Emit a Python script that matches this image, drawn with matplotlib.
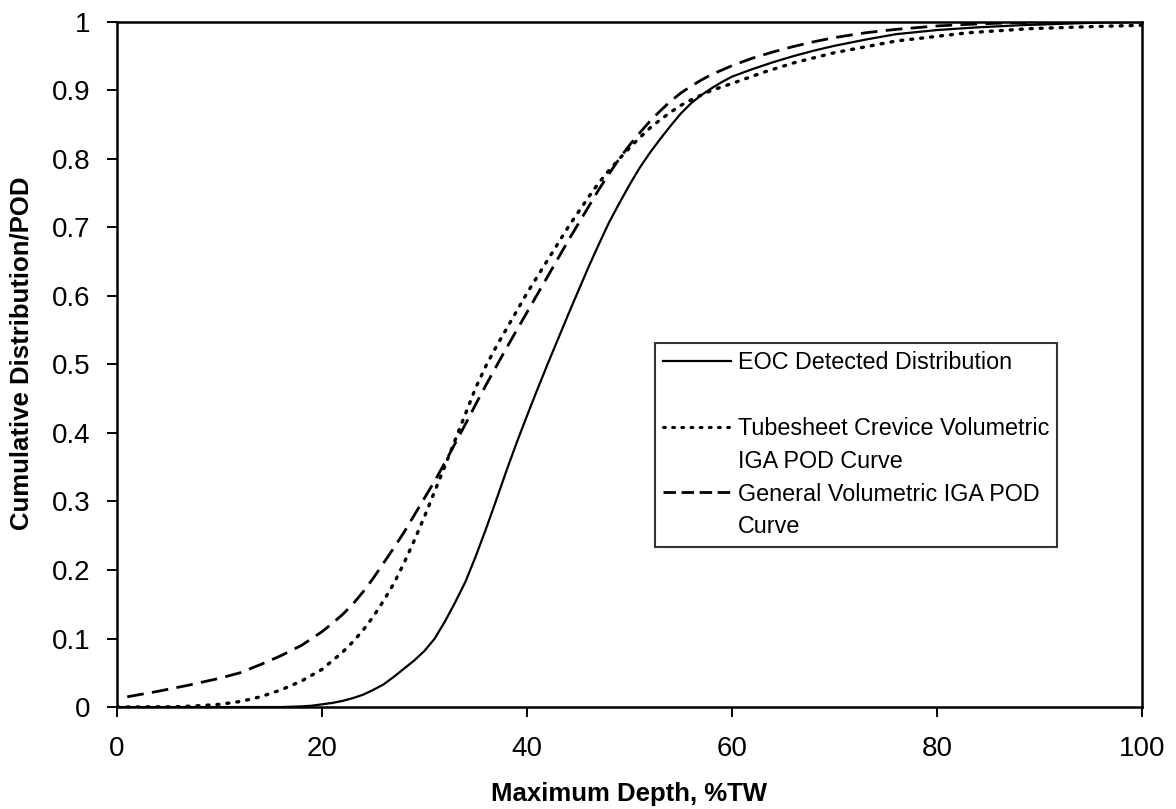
import matplotlib
matplotlib.use("Agg")
import matplotlib.pyplot as plt
from matplotlib.lines import Line2D

plt.rcParams['font.family'] = ['Liberation Sans', 'DejaVu Sans']

# EOC Detected Distribution (solid)
eoc_x = [0, 10, 16, 18, 19, 20, 21, 22, 23, 24, 25, 26, 27, 28, 29, 30, 31, 32, 33, 34, 35,
         36, 37, 38, 39, 40, 41, 42, 43, 44, 45, 46, 47, 48, 49, 50, 51, 52, 53, 54, 55, 56,
         57, 58, 59, 60, 62, 64, 66, 68, 70, 73, 76, 80, 84, 88, 92, 96, 100]
eoc_y = [0, 0, 0, 0.001, 0.002, 0.004, 0.006, 0.009, 0.013, 0.018, 0.025, 0.033, 0.044,
         0.056, 0.068, 0.082, 0.1, 0.125, 0.153, 0.183, 0.22, 0.26, 0.302, 0.345, 0.386,
         0.425, 0.463, 0.5, 0.536, 0.572, 0.607, 0.642, 0.675, 0.707, 0.735, 0.762, 0.787,
         0.809, 0.829, 0.848, 0.866, 0.881, 0.893, 0.903, 0.912, 0.92, 0.931, 0.941, 0.95,
         0.958, 0.965, 0.974, 0.982, 0.988, 0.992, 0.995, 0.997, 0.999, 1.0]

# Tubesheet Crevice Volumetric IGA POD Curve (dotted)
tsc_x = [0, 6, 8, 10, 12, 14, 16, 18, 20, 22, 23, 24, 25, 26, 27, 28, 29, 30, 31, 32, 33,
         34, 35, 36, 37, 38, 39, 40, 41, 42, 43, 44, 45, 46, 47, 48, 49, 50, 51, 52, 53, 54,
         55, 56, 57, 58, 60, 63, 66, 70, 76, 83, 89, 95, 100]
tsc_y = [0, 0.0005, 0.002, 0.004, 0.008, 0.015, 0.025, 0.038, 0.055, 0.08, 0.095, 0.112,
         0.132, 0.155, 0.18, 0.21, 0.243, 0.278, 0.315, 0.352, 0.39, 0.428, 0.466, 0.498,
         0.526, 0.552, 0.578, 0.604, 0.628, 0.652, 0.676, 0.7, 0.722, 0.744, 0.765, 0.783,
         0.8, 0.816, 0.831, 0.845, 0.857, 0.868, 0.878, 0.886, 0.893, 0.9, 0.91, 0.926,
         0.94, 0.955, 0.972, 0.984, 0.99, 0.993, 0.995]

# General Volumetric IGA POD Curve (dashed)
gen_x = [1, 4, 7, 10, 12, 14, 16, 18, 20, 21, 22, 23, 24, 25, 26, 27, 28, 29, 30, 31, 32,
         33, 34, 35, 36, 37, 38, 39, 40, 41, 42, 43, 44, 45, 46, 47, 48, 49, 50, 51, 52, 53,
         54, 55, 56, 57, 58, 60, 62, 64, 66, 68, 70, 73, 76, 80, 84, 88, 92, 100]
gen_y = [0.015, 0.023, 0.032, 0.042, 0.05, 0.062, 0.075, 0.09, 0.11, 0.122, 0.135, 0.15,
         0.168, 0.188, 0.21, 0.232, 0.255, 0.28, 0.305, 0.33, 0.357, 0.385, 0.413, 0.442,
         0.47, 0.497, 0.524, 0.55, 0.576, 0.602, 0.628, 0.654, 0.68, 0.705, 0.73, 0.755,
         0.778, 0.8, 0.82, 0.838, 0.855, 0.87, 0.884, 0.896, 0.906, 0.915, 0.923, 0.936,
         0.947, 0.956, 0.964, 0.971, 0.977, 0.984, 0.989, 0.994, 0.997, 0.999, 1.0, 1.0]

labels = ["EOC Detected Distribution",
          "Tubesheet Crevice Volumetric\nIGA POD Curve",
          "General Volumetric IGA POD\nCurve"]
x_ticks = [0, 20, 40, 60, 80, 100]
y_ticks = [0, 0.1, 0.2, 0.3, 0.4, 0.5, 0.6, 0.7, 0.8, 0.9, 1]
y_tick_labels = ["0", "0.1", "0.2", "0.3", "0.4", "0.5", "0.6", "0.7", "0.8", "0.9", "1"]

fig = plt.figure(figsize=(11.76, 8.09), dpi=100)
ax = fig.add_axes([0.0995, 0.126, 0.8715, 0.847])

ls_dot = (0, (0.6, 2.4))
ls_dash = (0, (6, 3))
ax.plot(eoc_x, eoc_y, color='black', lw=1.6, ls='-')
ax.plot(tsc_x, tsc_y, color='black', lw=2.4, ls=ls_dot, dash_capstyle='round')
ax.plot(gen_x, gen_y, color='black', lw=2.0, ls=ls_dash)

ax.set_xlim(0, 100)
ax.set_ylim(0, 1)
ax.set_xticks(x_ticks)
ax.set_yticks(y_ticks)
ax.set_yticklabels(y_tick_labels)
ax.tick_params(axis='both', direction='out', length=7, width=1.4, labelsize=20, colors='black')
ax.tick_params(axis='x', pad=14)
ax.tick_params(axis='y', pad=12)
for s in ax.spines.values():
    s.set_linewidth(1.8)
    s.set_color('black')

ax.set_xlabel("Maximum Depth, %TW", fontsize=18.5, fontweight='bold', labelpad=14)
ax.set_ylabel("Cumulative Distribution/POD", fontsize=18.5, fontweight='bold')
ax.yaxis.set_label_coords(-0.081, 0.517)

# Legend: handles aligned to the first line of each label
l1, l2 = labels[1].split("\n")
m1, m2 = labels[2].split("\n")
blank = Line2D([], [], color='none')
handles = [Line2D([], [], color='black', lw=1.6, ls='-'),
           blank,
           Line2D([], [], color='black', lw=2.2, ls=ls_dot, dash_capstyle='round'),
           blank,
           Line2D([], [], color='black', lw=2.0, ls=(0, (4.5, 2))),
           blank]
texts = [labels[0], " ", l1, l2, m1, m2]
leg = ax.legend(handles, texts, loc='upper left', bbox_to_anchor=(0.525, 0.531),
                fontsize=16.8, frameon=True, fancybox=False, shadow=False,
                handlelength=2.9, handletextpad=0.3, labelspacing=0.42,
                borderpad=0.35, borderaxespad=0.0)
leg.get_frame().set_edgecolor('black')
leg.get_frame().set_linewidth(1.5)

fig.savefig("out.png", dpi=100, facecolor='white')
